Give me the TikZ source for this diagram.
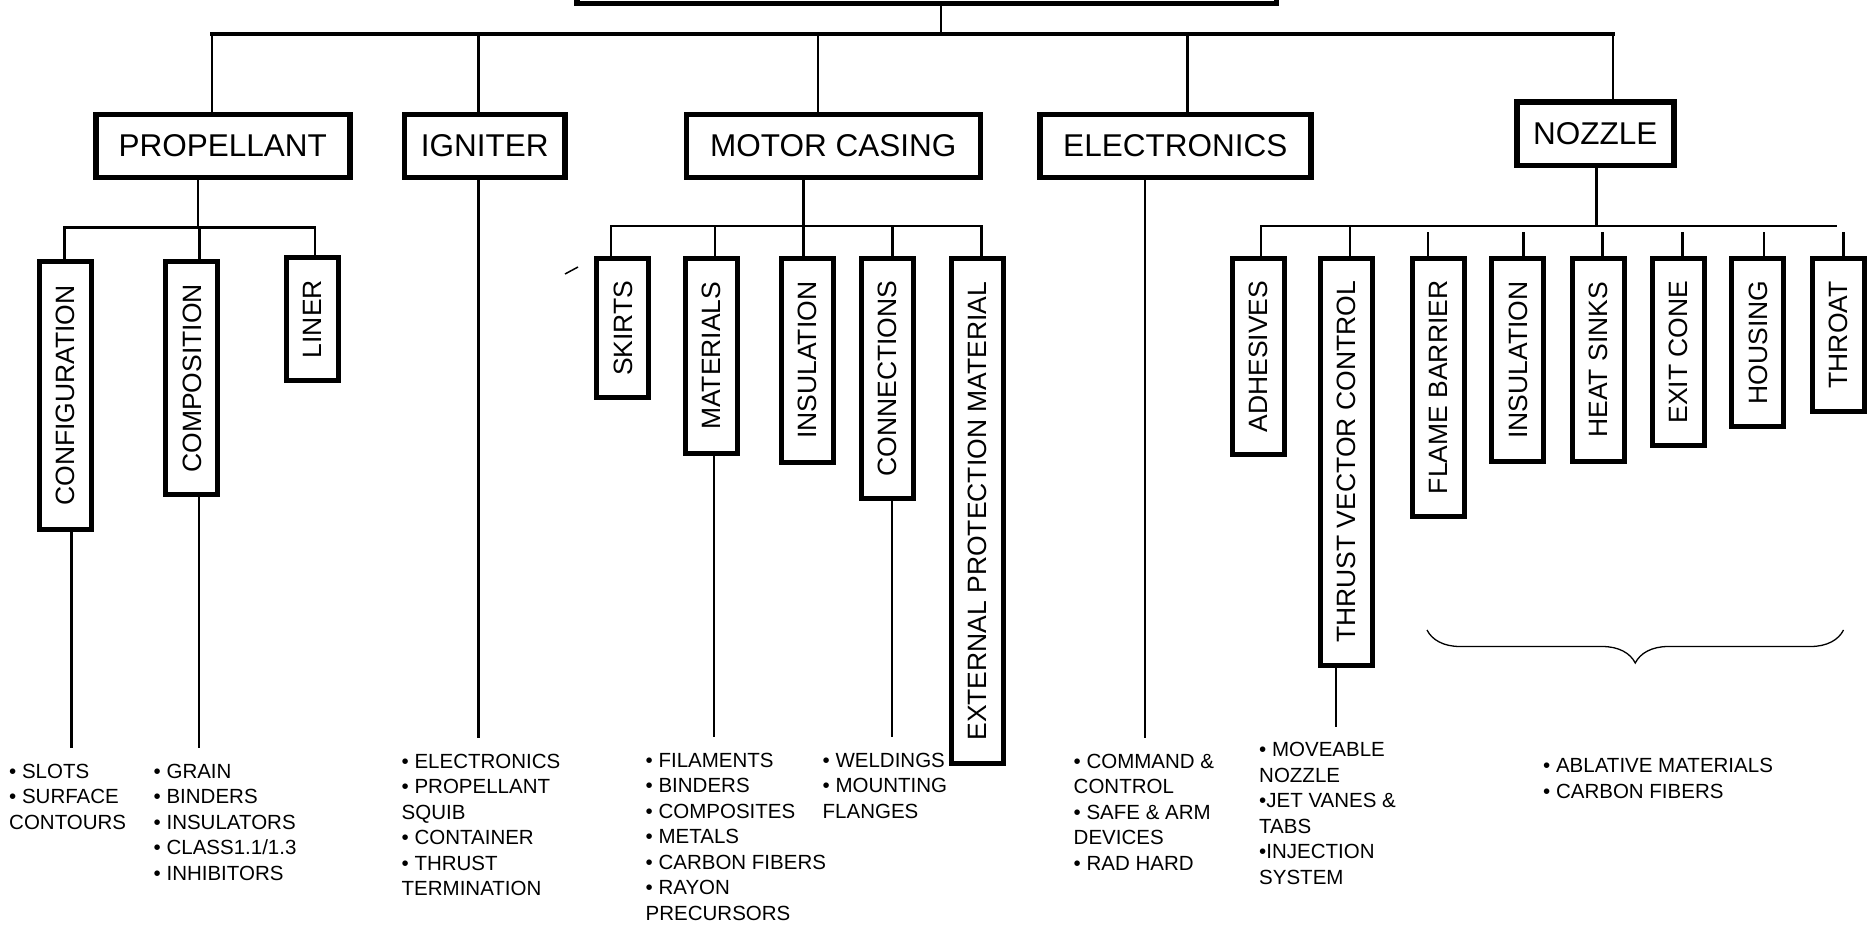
\documentclass[tikz,border=0pt]{standalone}
\usepackage{fontspec}
\setmainfont{Liberation Sans}
\usepackage{graphicx}
\usetikzlibrary{decorations.pathreplacing}
\newcommand{\vlab}[1]{\rotatebox{90}{\raisebox{0pt}[\height][0pt]{#1}}}

\begin{document}
\begin{tikzpicture}[x=1pt, y=-1pt,
                    hbox/.style={draw, line width=5.5pt, inner sep=0pt, minimum height=62.8pt, font=\fontsize{31.5}{36}\selectfont},
                    vbox/.style={draw, line width=5pt, inner sep=0pt, minimum width=52pt, font=\fontsize{26.5}{30}\selectfont},
                    link/.style={line width=2.5pt, line cap=rect},
                    items/.style={anchor=base west, align=left, inner sep=0pt, font=\fontsize{20.5}{25.5}\selectfont}]
    \useasboundingbox (0,0) rectangle (1874,926);
    \clip (0,0) rectangle (1874,926);
    \node[hbox, minimum width=699.5pt, minimum height=60.5pt] (sys) at (926.5,-27) {};
    \node[hbox, minimum width=254pt] (prop) at (222.75,145.85) {PROPELLANT};
    \node[hbox, minimum width=160.5pt] (ign) at (484.7,145.85) {IGNITER};
    \node[hbox, minimum width=294pt] (case) at (833.25,145.85) {MOTOR CASING};
    \node[hbox, minimum width=271pt] (elec) at (1175.25,145.85) {ELECTRONICS};
    \node[hbox, minimum width=157pt, minimum height=63.5pt] (noz) at (1595.25,133.8) {NOZZLE};
    \node[vbox, minimum height=267.4pt] (conf) at (65.25,395.5) {\vlab{CONFIGURATION}};
    \node[vbox, minimum height=233pt] (comp) at (191.95,378.3) {\vlab{COMPOSITION}};
    \node[vbox, minimum height=123.3pt] (liner) at (312.35,319.15) {\vlab{LINER}};
    \node[vbox, minimum height=139.4pt] (skirt) at (622.85,328.2) {\vlab{SKIRTS}};
    \node[vbox, minimum height=194.7pt] (mat) at (711.35,355.85) {\vlab{MATERIALS}};
    \node[vbox, minimum height=203.6pt] (insc) at (807.15,360.3) {\vlab{INSULATION}};
    \node[vbox, minimum height=240.4pt] (conn) at (887.5,378.7) {\vlab{CONNECTIONS}};
    \node[vbox, minimum height=505.4pt] (ext) at (977.65,511.2) {\vlab{EXTERNAL PROTECTION MATERIAL}};
    \node[vbox, minimum height=196.6pt] (adh) at (1258,356.5) {\vlab{ADHESIVES}};
    \node[vbox, minimum height=407.6pt] (tvc) at (1346.7,462) {\vlab{THRUST VECTOR CONTROL}};
    \node[vbox, minimum height=258.3pt] (flame) at (1438,387.35) {\vlab{FLAME BARRIER}};
    \node[vbox, minimum height=203.6pt] (insn) at (1517.9,360) {\vlab{INSULATION}};
    \node[vbox, minimum height=203.3pt] (heat) at (1598.1,359.85) {\vlab{HEAT SINKS}};
    \node[vbox, minimum height=187.6pt] (exit) at (1678.25,352) {\vlab{EXIT CONE}};
    \node[vbox, minimum height=168.6pt] (house) at (1757.85,342.5) {\vlab{HOUSING}};
    \node[vbox, minimum height=153.3pt] (throat) at (1838,334.85) {\vlab{THROAT}};
    \node[items] (l1) at (9,829.3) {• SLOTS\\• SURFACE\\CONTOURS};
    \node[items] (l2) at (153.5,880.3) {• GRAIN\\• BINDERS\\• INSULATORS\\• CLASS1.1/1.3\\• INHIBITORS};
    \node[items] (l3) at (401.5,895.8) {• ELECTRONICS\\• PROPELLANT\\SQUIB\\• CONTAINER\\• THRUST\\TERMINATION};
    \node[items] (l4) at (645.5,920.3) {• FILAMENTS\\• BINDERS\\• COMPOSITES\\• METALS\\• CARBON FIBERS\\• RAYON\\PRECURSORS};
    \node[items] (l5) at (822.5,818.3) {• WELDINGS\\• MOUNTING\\FLANGES};
    \node[items] (l6) at (1073.5,870.3) {• COMMAND \&\\CONTROL\\• SAFE \& ARM\\DEVICES\\• RAD HARD};
    \node[items] (l7) at (1259,884.2) {• MOVEABLE\\NOZZLE\\•JET VANES \&\\TABS\\•INJECTION\\SYSTEM};
    \node[items] (l8) at (1543,798.2) {• ABLATIVE MATERIALS\\• CARBON FIBERS};
    \coordinate (m0) at (941,34);
    \coordinate (m1) at (212,34);
    \coordinate (m2) at (478.4,34);
    \coordinate (m3) at (818,34);
    \coordinate (m4) at (1187.7,34);
    \coordinate (m5) at (1613,34);
    \draw[link, line width=3.2pt] (m1) -- (m5);
    \draw[link] (m0 |- sys.south) -- (m0);
    \draw[link] (m1) -- (m1 |- prop.north);
    \draw[link] (m2) -- (m2 |- ign.north);
    \draw[link] (m3) -- (m3 |- case.north);
    \draw[link] (m4) -- (m4 |- elec.north);
    \draw[link] (m5) -- (m5 |- noz.north);
    \coordinate (p0) at (198,227.5);
    \coordinate (p1) at (64.5,227.5);
    \coordinate (p2) at (199.5,227.5);
    \coordinate (p3) at (315,227.5);
    \coordinate (p4) at (71.6,747);
    \coordinate (p5) at (199,747);
    \draw[link] (p0 |- prop.south) -- (p0);
    \draw[link] (p1) -- (p3);
    \draw[link] (p1) -- (p1 |- conf.north);
    \draw[link] (p2) -- (p2 |- comp.north);
    \draw[link] (p3) -- (p3 |- liner.north);
    \draw[link] (p4 |- conf.south) -- (p4);
    \draw[link] (p5 |- comp.south) -- (p5);
    \coordinate (g1) at (478.4,737);
    \draw[link] (g1 |- ign.south) -- (g1);
    \coordinate (c1) at (611,226);
    \coordinate (c2) at (715,226);
    \coordinate (c3) at (803.4,226);
    \coordinate (c4) at (892.7,226);
    \coordinate (c5) at (981.7,226);
    \coordinate (c6) at (714,736);
    \coordinate (c7) at (892,736);
    \draw[link] (c3 |- case.south) -- (c3);
    \draw[link] (c1) -- (c5);
    \draw[link] (c1) -- (c1 |- skirt.north);
    \draw[link] (c2) -- (c2 |- mat.north);
    \draw[link] (c3) -- (c3 |- insc.north);
    \draw[link] (c4) -- (c4 |- conn.north);
    \draw[link] (c5) -- (c5 |- ext.north);
    \draw[link] (c6 |- mat.south) -- (c6);
    \draw[link] (c7 |- conn.south) -- (c7);
    \coordinate (e1) at (1145,737);
    \draw[link] (e1 |- elec.south) -- (e1);
    \coordinate (n0) at (1596.5,226);
    \coordinate (n1) at (1261,226);
    \coordinate (n2) at (1350,226);
    \coordinate (n3) at (1427.8,233);
    \coordinate (n4) at (1523.6,233);
    \coordinate (n5) at (1602.5,233);
    \coordinate (n6) at (1682.6,233);
    \coordinate (n7) at (1763.8,233);
    \coordinate (n8) at (1843.3,233);
    \coordinate (n9) at (1836,226);
    \coordinate (n10) at (1336,726);
    \draw[link] (n0 |- noz.south) -- (n0);
    \draw[link] (n1) -- (n9);
    \draw[link] (n1) -- (n1 |- adh.north);
    \draw[link] (n2) -- (n2 |- tvc.north);
    \draw[link] (n3) -- (n3 |- flame.north);
    \draw[link] (n4) -- (n4 |- insn.north);
    \draw[link] (n5) -- (n5 |- heat.north);
    \draw[link] (n6) -- (n6 |- exit.north);
    \draw[link] (n7) -- (n7 |- house.north);
    \draw[link] (n8) -- (n8 |- throat.north);
    \draw[link] (n10 |- tvc.south) -- (n10);
    \coordinate (b1) at (1427,630);
    \coordinate (b2) at (1843.5,630);
    \draw[line width=1.3pt, decorate, decoration={brace, mirror, amplitude=33pt}] (b1) -- (b2);
    \coordinate (k1) at (565,274);
    \coordinate (k2) at (578,267);
    \draw[line width=1.5pt] (k1) -- (k2);
\end{tikzpicture}
\end{document}
